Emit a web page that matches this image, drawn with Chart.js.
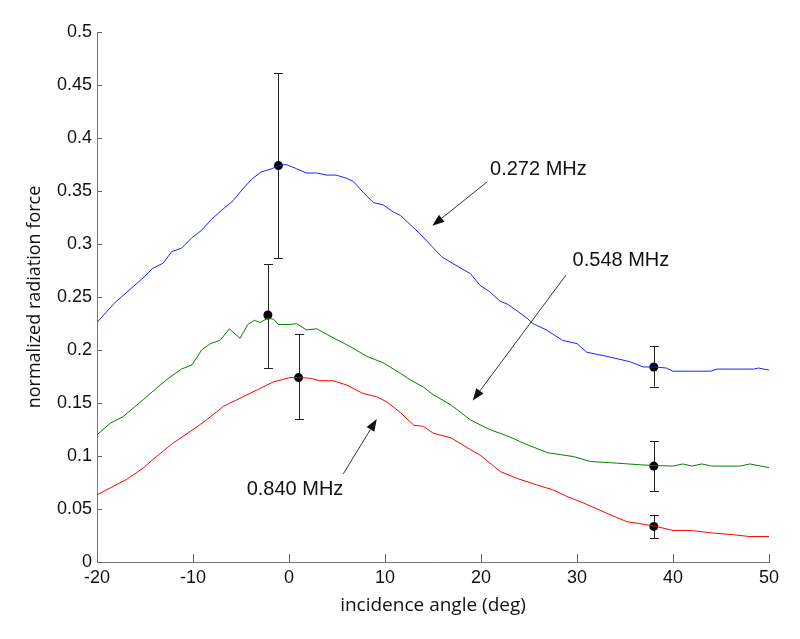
<!DOCTYPE html>
<html>
<head>
<meta charset="utf-8">
<script src="https://cdn.jsdelivr.net/npm/chart.js@4.4.1/dist/chart.umd.min.js"></script>
<style>
  body { margin: 0; background: #fff; }
  canvas { display: block; }
</style>
</head>
<body>
<canvas id="myChart" width="800" height="639"></canvas>
<script>
// curves: [incidence angle, normalized force]
const curve272 = [[-20, 0.226], [-19.5, 0.231], [-18.1, 0.245], [-16.2, 0.260], [-15.2, 0.268], [-14.2, 0.277],
  [-13.1, 0.282], [-12.2, 0.293], [-11.2, 0.296], [-10.1, 0.306], [-9.1, 0.313], [-8.1, 0.323], [-7.0, 0.332],
  [-5.8, 0.341], [-4.9, 0.351], [-3.9, 0.361], [-2.9, 0.368], [-1.8, 0.371], [-1.1, 0.374], [-0.3, 0.375],
  [0.8, 0.371], [1.8, 0.367], [2.9, 0.367], [3.9, 0.365], [4.9, 0.365], [6.0, 0.362], [6.7, 0.359], [7.7, 0.349],
  [8.8, 0.339], [9.8, 0.337], [10.9, 0.330], [11.6, 0.327], [13.6, 0.310], [15.9, 0.288], [16.8, 0.283],
  [18.9, 0.272], [19.9, 0.261], [20.9, 0.255], [22.0, 0.246], [22.8, 0.243], [23.9, 0.236], [24.8, 0.230],
  [25.4, 0.225], [26.8, 0.219], [28.5, 0.209], [30.0, 0.206], [31.0, 0.198], [33.1, 0.194], [35.5, 0.189],
  [36.9, 0.184], [38.0, 0.184], [39.3, 0.183], [40.0, 0.180], [43.9, 0.180], [44.6, 0.182], [48.4, 0.182],
  [48.9, 0.183], [50, 0.181]];

const curve548 = [[-20, 0.120], [-18.6, 0.131], [-17.3, 0.137], [-15.2, 0.153], [-13.8, 0.164], [-12.6, 0.173],
  [-11.2, 0.182], [-10.1, 0.186], [-9.1, 0.200], [-8.2, 0.206], [-7.2, 0.209], [-6.2, 0.220], [-5.1, 0.211],
  [-4.3, 0.224], [-3.6, 0.228], [-3.0, 0.226], [-2.2, 0.230], [-1.6, 0.229], [-1.1, 0.224], [0.1, 0.224],
  [0.8, 0.225], [1.8, 0.219], [2.9, 0.220], [4.3, 0.213], [6.0, 0.205], [7.0, 0.200], [8.1, 0.194], [9.8, 0.188],
  [11.6, 0.178], [12.6, 0.172], [14.0, 0.165], [15.0, 0.158], [16.9, 0.148], [18.9, 0.134], [20.9, 0.125],
  [23.0, 0.118], [24.7, 0.111], [27.0, 0.103], [29.6, 0.0995], [31.4, 0.0948], [34.1, 0.0933], [36.6, 0.0917],
  [38, 0.0910], [40, 0.0905], [41, 0.0925], [42, 0.0905], [43, 0.0925], [44, 0.0905], [47, 0.0905],
  [48, 0.0925], [50, 0.089]];

const curve840 = [[-20, 0.0634], [-18.6, 0.070], [-16.9, 0.078], [-15.2, 0.0886], [-13.8, 0.0995], [-12.1, 0.112],
  [-10.3, 0.123], [-8.6, 0.134], [-6.8, 0.147], [-5.1, 0.1545], [-3.4, 0.162], [-1.6, 0.170], [0.1, 0.174],
  [1.0, 0.174], [2.2, 0.1734], [3.2, 0.171], [4.6, 0.171], [6.0, 0.167], [7.7, 0.159], [9.1, 0.156], [10.2, 0.151],
  [11.6, 0.141], [13.0, 0.129], [14.0, 0.128], [15.0, 0.1216], [16.9, 0.117], [18.9, 0.106], [19.9, 0.101],
  [22.0, 0.0854], [23.7, 0.079], [25.8, 0.0728], [27.5, 0.068], [28.9, 0.062], [30.7, 0.0556], [33.1, 0.046],
  [35.2, 0.038], [36.2, 0.0367], [38, 0.034], [40.0, 0.0298], [41.8, 0.0298], [44.2, 0.0273], [46.3, 0.0257],
  [48.0, 0.024], [50, 0.024]];

// measured points with error bars
const errAngle = [-1.1, -2.2, 1.0, 38, 38, 38];
const errMean  = [0.374, 0.233, 0.174, 0.184, 0.0905, 0.0336];
const errHigh  = [0.461, 0.281, 0.215, 0.204, 0.1137, 0.0446];
const errLow   = [0.2865, 0.183, 0.1348, 0.1655, 0.0666, 0.0226];

// text labels and their arrows (data coords)
const labelText = ['0.272 MHz', '0.548 MHz', '0.840 MHz'];
const labelAt   = [[20.94, 0.3706], [29.54, 0.2849], [-4.41, 0.0681]];
const arrowFrom = [[20.65, 0.3587], [28.85, 0.2707], [5.66, 0.0832]];
const arrowTo   = [[14.93, 0.3172], [19.14, 0.1523], [9.14, 0.1348]];

const toXY = arr => arr.map(([x, y]) => ({x, y}));

const extras = {
  id: 'extras',
  beforeDatasetsDraw(chart) {
    const {ctx, scales: {x, y}} = chart;
    ctx.save();
    ctx.strokeStyle = '#222';
    ctx.lineWidth = 1;
    errAngle.forEach((a, i) => {
      const px = Math.round(x.getPixelForValue(a)) + 0.5;
      const top = y.getPixelForValue(errHigh[i]);
      const bot = y.getPixelForValue(errLow[i]);
      ctx.beginPath();
      ctx.moveTo(px, top); ctx.lineTo(px, bot);
      ctx.moveTo(px - 4.5, Math.round(top) + 0.5); ctx.lineTo(px + 4.5, Math.round(top) + 0.5);
      ctx.moveTo(px - 4.5, Math.round(bot) + 0.5); ctx.lineTo(px + 4.5, Math.round(bot) + 0.5);
      ctx.stroke();
    });
    ctx.restore();
  },
  afterDraw(chart) {
    const {ctx, scales: {x, y}, chartArea} = chart;
    ctx.save();
    // inward tick marks
    ctx.strokeStyle = '#666';
    ctx.lineWidth = 1;
    x.ticks.forEach(t => {
      const px = Math.round(x.getPixelForValue(t.value)) + 0.5;
      ctx.beginPath();
      ctx.moveTo(px, chartArea.bottom);
      ctx.lineTo(px, chartArea.bottom - 8);
      ctx.stroke();
    });
    y.ticks.forEach(t => {
      const py = Math.round(y.getPixelForValue(t.value)) + 0.5;
      ctx.beginPath();
      ctx.moveTo(chartArea.left, py);
      ctx.lineTo(chartArea.left + 5, py);
      ctx.stroke();
    });
    // labels and arrows
    ctx.fillStyle = '#111';
    ctx.strokeStyle = '#333';
    ctx.font = '20px "Liberation Sans", Arial, sans-serif';
    ctx.textBaseline = 'middle';
    ctx.textAlign = 'left';
    labelText.forEach((txt, i) => {
      ctx.fillText(txt, x.getPixelForValue(labelAt[i][0]), y.getPixelForValue(labelAt[i][1]));
      const x0 = x.getPixelForValue(arrowFrom[i][0]), y0 = y.getPixelForValue(arrowFrom[i][1]);
      const x1 = x.getPixelForValue(arrowTo[i][0]), y1 = y.getPixelForValue(arrowTo[i][1]);
      const ang = Math.atan2(y1 - y0, x1 - x0);
      const len = 12, half = 4.5;
      const bx = x1 - len * Math.cos(ang), by = y1 - len * Math.sin(ang);
      ctx.beginPath();
      ctx.moveTo(x0, y0); ctx.lineTo(bx, by);
      ctx.stroke();
      ctx.beginPath();
      ctx.moveTo(x1, y1);
      ctx.lineTo(bx + half * Math.sin(ang), by - half * Math.cos(ang));
      ctx.lineTo(bx - half * Math.sin(ang), by + half * Math.cos(ang));
      ctx.closePath();
      ctx.fill();
    });
    ctx.restore();
  }
};

window.onload = function() {
  const ctx = document.getElementById('myChart').getContext('2d');
  const myChart = new Chart(ctx, {
    type: 'scatter',
    data: {
      datasets: [
        { data: toXY(curve272), showLine: true, borderColor: '#2020ff', borderWidth: 1, pointRadius: 0 },
        { data: toXY(curve548), showLine: true, borderColor: '#008000', borderWidth: 1, pointRadius: 0 },
        { data: toXY(curve840), showLine: true, borderColor: '#ff0000', borderWidth: 1, pointRadius: 0 },
        {
          data: errAngle.map((a, i) => ({x: a, y: errMean[i]})),
          pointRadius: 4.5, backgroundColor: '#000', borderColor: '#000', borderWidth: 0
        }
      ]
    },
    options: {
      responsive: false,
      animation: false,
      layout: { padding: { top: 32, right: 31, left: 0, bottom: 0 } },
      plugins: { legend: { display: false }, tooltip: { enabled: false } },
      scales: {
        x: {
          type: 'linear', min: -20, max: 50,
          afterFit: s => { s.height = 77; },
          ticks: {
            stepSize: 10, padding: 5, color: '#111',
            font: { family: '"Liberation Sans", Arial, sans-serif', size: 18 }
          },
          grid: { display: false, drawTicks: false },
          border: { display: true, color: '#777', width: 1 },
          title: {
            display: true, text: 'incidence angle (deg)', color: '#111',
            font: { family: '"Open Sans", sans-serif', size: 19 },
            padding: { top: 0, bottom: 22 }
          }
        },
        y: {
          min: 0, max: 0.5,
          afterFit: s => { s.width = 97; },
          ticks: {
            stepSize: 0.05, padding: 5, color: '#111',
            font: { family: '"Liberation Sans", Arial, sans-serif', size: 18 },
            callback: v => String(Number(v.toFixed(2)))
          },
          grid: { display: false, drawTicks: false },
          border: { display: true, color: '#777', width: 1 },
          title: {
            display: true, text: 'normalized radiation force', color: '#111',
            font: { family: '"Open Sans", sans-serif', size: 18 },
            padding: { top: 24, bottom: 0 }
          }
        }
      }
    },
    plugins: [extras]
  });
};
</script>
</body>
</html>
